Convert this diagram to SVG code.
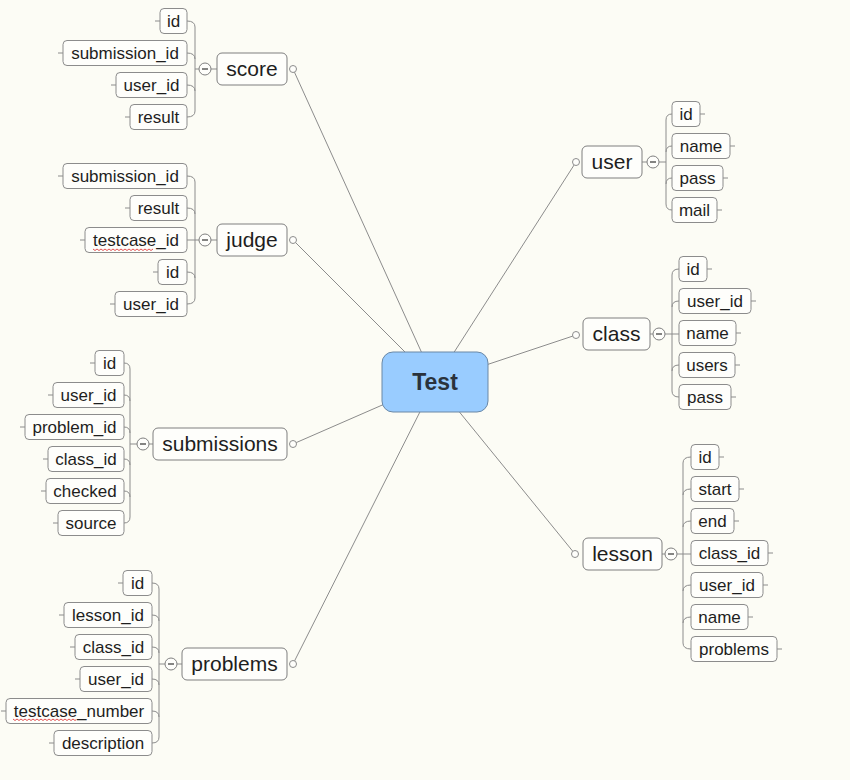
<svg xmlns="http://www.w3.org/2000/svg" width="850" height="780" viewBox="0 0 850 780">
<style>
.bg{fill:#fcfcf5}
.leaf rect{fill:#fefefb;stroke:#8c8c8c;stroke-width:1}
.leaf text{font-family:"Liberation Sans",Arial,sans-serif;font-size:17px;fill:#1e1e1e;text-anchor:middle}
.branch rect{fill:#fefefb;stroke:#7f7f7f;stroke-width:1}
.branch text{font-family:"Liberation Sans",Arial,sans-serif;font-size:21px;fill:#1e1e1e;text-anchor:middle}
.ln{fill:none;stroke:#8c8c8c;stroke-width:1}
.dot{fill:#fefefb;stroke:#8c8c8c;stroke-width:1}
.col{fill:#fefefb;stroke:#7f7f7f;stroke-width:1}
.minus{stroke:#333;stroke-width:1.2}
.sq{fill:none;stroke:#e04040;stroke-width:0.9}
</style>
<rect class="bg" x="0" y="0" width="850" height="780"/>

<g id="connectors">
  <path class="ln" d="M293,69 L435,382 M293,240 L435,382 M293,444 L435,382 M293,664 L435,382 M576,162 L435,382 M576,335 L435,382 M575,554 L435,382"/>
  <!-- score bracket -->
  <path class="ln" d="M187,21 Q195,21 195,27 L195,111 Q195,117 187,117 M187,53 Q195,53 195,59 M187,85 Q195,85 195,91 M195,69 L199,69 M211,69 L217,69"/>
  <!-- judge bracket -->
  <path class="ln" d="M187,176 Q195,176 195,182 L195,298 Q195,304 187,304 M187,208 Q195,208 195,214 M187,240 L199,240 M187,272 Q195,272 195,278 M211,240 L217,240"/>
  <!-- submissions bracket -->
  <path class="ln" d="M124,363 Q130,363 130,369 L130,517 Q130,523 124,523 M124,395 Q130,395 130,401 M124,427 Q130,427 130,433 M124,459 Q130,459 130,465 M124,491 Q130,491 130,497 M130,444 L137,444 M149,444 L153,444"/>
  <!-- problems bracket -->
  <path class="ln" d="M152,583 Q159,583 159,589 L159,737 Q159,743 152,743 M152,615 Q159,615 159,621 M152,647 Q159,647 159,653 M152,679 Q159,679 159,685 M152,711 Q159,711 159,717 M159,664 L165,664 M177,664 L182,664"/>
  <!-- user bracket -->
  <path class="ln" d="M672,114 Q666,114 666,120 L666,204 Q666,210 672,210 M672,146 Q666,146 666,152 M672,178 Q666,178 666,184 M659,162 L666,162 M642,162 L647,162"/>
  <!-- class bracket -->
  <path class="ln" d="M679,269 Q672,269 672,275 L672,391 Q672,397 679,397 M679,301 Q672,301 672,307 M665,334 L679,334 M679,365 Q672,365 672,371 M650,334 L653,334"/>
  <!-- lesson bracket -->
  <path class="ln" d="M691,457 Q683,457 683,463 L683,643 Q683,649 691,649 M691,489 Q683,489 683,495 M691,521 Q683,521 683,527 M677,554 L691,554 M691,585 Q683,585 683,591 M691,617 Q683,617 683,623 M662,554 L665,554"/>
  <!-- leaf stubs -->
  <path class="ln" d="M155,21 H160 M58,53 H63 M111,85 H116 M125,117 H130
  M58,176 H63 M125,208 H130 M80,240 H85 M153,272 H158 M110,304 H115
  M90,363 H95 M48,395 H53 M20,427 H25 M43,459 H48 M41,491 H46 M53,523 H58
  M118,583 H123 M59,615 H64 M70,647 H75 M75,679 H80 M1,711 H6 M49,743 H54
  M700,114 H705 M730,146 H735 M723,178 H728 M717,210 H722
  M707,269 H712 M751,301 H756 M736,333 H741 M735,365 H740 M731,397 H736
  M719,457 H724 M739,489 H744 M734,521 H739 M768,553 H773 M763,585 H768 M748,617 H753 M777,649 H782"/>
  <!-- branch dots -->
  <circle class="dot" cx="293" cy="69" r="3.5"/>
  <circle class="dot" cx="293" cy="240" r="3.5"/>
  <circle class="dot" cx="293" cy="444" r="3.5"/>
  <circle class="dot" cx="293" cy="664" r="3.5"/>
  <circle class="dot" cx="576" cy="162" r="3.5"/>
  <circle class="dot" cx="576" cy="335" r="3.5"/>
  <circle class="dot" cx="575" cy="554" r="3.5"/>
  <!-- collapse buttons -->
  <g><circle class="col" cx="205" cy="69" r="6"/><path class="minus" d="M202,69 H208"/></g>
  <g><circle class="col" cx="205" cy="240" r="6"/><path class="minus" d="M202,240 H208"/></g>
  <g><circle class="col" cx="143" cy="444" r="6"/><path class="minus" d="M140,444 H146"/></g>
  <g><circle class="col" cx="171" cy="664" r="6"/><path class="minus" d="M168,664 H174"/></g>
  <g><circle class="col" cx="653" cy="162" r="6"/><path class="minus" d="M650,162 H656"/></g>
  <g><circle class="col" cx="659" cy="334" r="6"/><path class="minus" d="M656,334 H662"/></g>
  <g><circle class="col" cx="671" cy="554" r="6"/><path class="minus" d="M668,554 H674"/></g>
</g>

<g id="test">
  <rect x="382" y="352" width="106" height="60" rx="11" fill="#99ccff" stroke="#6a88a6" stroke-width="1"/>
  <text x="435" y="390" font-family="'Liberation Sans',Arial,sans-serif" font-size="23" font-weight="bold" fill="#2a323c" text-anchor="middle">Test</text>
</g>

<g id="score" class="branch"><rect x="217" y="53" width="70" height="32" rx="5"/><text x="252" y="76">score</text></g>
<g id="judge" class="branch"><rect x="217" y="224" width="70" height="32" rx="5"/><text x="252" y="247">judge</text></g>
<g id="submissions" class="branch"><rect x="153" y="428" width="134" height="32" rx="5"/><text x="220" y="451">submissions</text></g>
<g id="problems" class="branch"><rect x="182" y="648" width="105" height="32" rx="5"/><text x="234.5" y="671">problems</text></g>
<g id="user" class="branch"><rect x="582" y="146" width="60" height="32" rx="5"/><text x="612" y="169">user</text></g>
<g id="class" class="branch"><rect x="583" y="318" width="67" height="32" rx="5"/><text x="616.5" y="341">class</text></g>
<g id="lesson" class="branch"><rect x="583" y="538" width="79" height="32" rx="5"/><text x="622.5" y="561">lesson</text></g>

<!-- score leaves -->
<g id="score-id" class="leaf"><rect x="160" y="8.5" width="27" height="25" rx="4"/><text x="173.5" y="27">id</text></g>
<g id="score-submission_id" class="leaf"><rect x="63" y="40.5" width="124" height="25" rx="4"/><text x="125" y="59">submission_id</text></g>
<g id="score-user_id" class="leaf"><rect x="116" y="72.5" width="71" height="25" rx="4"/><text x="151.5" y="91">user_id</text></g>
<g id="score-result" class="leaf"><rect x="130" y="104.5" width="57" height="25" rx="4"/><text x="158.5" y="123">result</text></g>

<!-- judge leaves -->
<g id="judge-submission_id" class="leaf"><rect x="63" y="163.5" width="124" height="25" rx="4"/><text x="125" y="182">submission_id</text></g>
<g id="judge-result" class="leaf"><rect x="130" y="195.5" width="57" height="25" rx="4"/><text x="158.5" y="214">result</text></g>
<g id="judge-testcase_id" class="leaf"><rect x="85" y="227.5" width="102" height="25" rx="4"/><text x="136" y="246">testcase_id</text>
<path class="sq" d="M93,249 l2,1.5 l2,-1.5 l2,1.5 l2,-1.5 l2,1.5 l2,-1.5 l2,1.5 l2,-1.5 l2,1.5 l2,-1.5 l2,1.5 l2,-1.5 l2,1.5 l2,-1.5 l2,1.5 l2,-1.5 l2,1.5 l2,-1.5 l2,1.5 l2,-1.5 l2,1.5 l2,-1.5 l2,1.5 l2,-1.5 l2,1.5 l2,-1.5 l2,1.5 l2,-1.5 l2,1.5 l2,-1.5"/></g>
<g id="judge-id" class="leaf"><rect x="158" y="259.5" width="29" height="25" rx="4"/><text x="172.5" y="278">id</text></g>
<g id="judge-user_id" class="leaf"><rect x="115" y="291.5" width="72" height="25" rx="4"/><text x="151" y="310">user_id</text></g>

<!-- submissions leaves -->
<g id="sub-id" class="leaf"><rect x="95" y="350.5" width="29" height="25" rx="4"/><text x="109.5" y="369">id</text></g>
<g id="sub-user_id" class="leaf"><rect x="53" y="382.5" width="71" height="25" rx="4"/><text x="88.5" y="401">user_id</text></g>
<g id="sub-problem_id" class="leaf"><rect x="25" y="414.5" width="99" height="25" rx="4"/><text x="74.5" y="433">problem_id</text></g>
<g id="sub-class_id" class="leaf"><rect x="48" y="446.5" width="76" height="25" rx="4"/><text x="86" y="465">class_id</text></g>
<g id="sub-checked" class="leaf"><rect x="46" y="478.5" width="78" height="25" rx="4"/><text x="85" y="497">checked</text></g>
<g id="sub-source" class="leaf"><rect x="58" y="510.5" width="66" height="25" rx="4"/><text x="91" y="529">source</text></g>

<!-- problems leaves -->
<g id="prob-id" class="leaf"><rect x="123" y="570.5" width="29" height="25" rx="4"/><text x="137.5" y="589">id</text></g>
<g id="prob-lesson_id" class="leaf"><rect x="64" y="602.5" width="88" height="25" rx="4"/><text x="108" y="621">lesson_id</text></g>
<g id="prob-class_id" class="leaf"><rect x="75" y="634.5" width="77" height="25" rx="4"/><text x="113.5" y="653">class_id</text></g>
<g id="prob-user_id" class="leaf"><rect x="80" y="666.5" width="72" height="25" rx="4"/><text x="116" y="685">user_id</text></g>
<g id="prob-testcase_number" class="leaf"><rect x="6" y="698.5" width="146" height="25" rx="4"/><text x="79" y="717">testcase_number</text>
<path class="sq" d="M13,719 l2,1.5 l2,-1.5 l2,1.5 l2,-1.5 l2,1.5 l2,-1.5 l2,1.5 l2,-1.5 l2,1.5 l2,-1.5 l2,1.5 l2,-1.5 l2,1.5 l2,-1.5 l2,1.5 l2,-1.5 l2,1.5 l2,-1.5 l2,1.5 l2,-1.5 l2,1.5 l2,-1.5 l2,1.5 l2,-1.5 l2,1.5 l2,-1.5 l2,1.5 l2,-1.5 l2,1.5 l2,-1.5 l2,1.5 l1,-0.75"/></g>
<g id="prob-description" class="leaf"><rect x="54" y="730.5" width="98" height="25" rx="4"/><text x="103" y="749">description</text></g>

<!-- user leaves -->
<g id="user-id" class="leaf"><rect x="672" y="101.5" width="28" height="25" rx="4"/><text x="686" y="120">id</text></g>
<g id="user-name" class="leaf"><rect x="672" y="133.5" width="58" height="25" rx="4"/><text x="701" y="152">name</text></g>
<g id="user-pass" class="leaf"><rect x="672" y="165.5" width="51" height="25" rx="4"/><text x="697.5" y="184">pass</text></g>
<g id="user-mail" class="leaf"><rect x="672" y="197.5" width="45" height="25" rx="4"/><text x="694.5" y="216">mail</text></g>

<!-- class leaves -->
<g id="class-id" class="leaf"><rect x="679" y="256.5" width="28" height="25" rx="4"/><text x="693" y="275">id</text></g>
<g id="class-user_id" class="leaf"><rect x="679" y="288.5" width="72" height="25" rx="4"/><text x="715" y="307">user_id</text></g>
<g id="class-name" class="leaf"><rect x="679" y="320.5" width="57" height="25" rx="4"/><text x="707.5" y="339">name</text></g>
<g id="class-users" class="leaf"><rect x="679" y="352.5" width="56" height="25" rx="4"/><text x="707" y="371">users</text></g>
<g id="class-pass" class="leaf"><rect x="679" y="384.5" width="52" height="25" rx="4"/><text x="705" y="403">pass</text></g>

<!-- lesson leaves -->
<g id="lesson-id" class="leaf"><rect x="691" y="444.5" width="28" height="25" rx="4"/><text x="705" y="463">id</text></g>
<g id="lesson-start" class="leaf"><rect x="691" y="476.5" width="48" height="25" rx="4"/><text x="715" y="495">start</text></g>
<g id="lesson-end" class="leaf"><rect x="691" y="508.5" width="43" height="25" rx="4"/><text x="712.5" y="527">end</text></g>
<g id="lesson-class_id" class="leaf"><rect x="691" y="540.5" width="77" height="25" rx="4"/><text x="729.5" y="559">class_id</text></g>
<g id="lesson-user_id" class="leaf"><rect x="691" y="572.5" width="72" height="25" rx="4"/><text x="727" y="591">user_id</text></g>
<g id="lesson-name" class="leaf"><rect x="691" y="604.5" width="57" height="25" rx="4"/><text x="719.5" y="623">name</text></g>
<g id="lesson-problems" class="leaf"><rect x="691" y="636.5" width="86" height="25" rx="4"/><text x="734" y="655">problems</text></g>
</svg>
